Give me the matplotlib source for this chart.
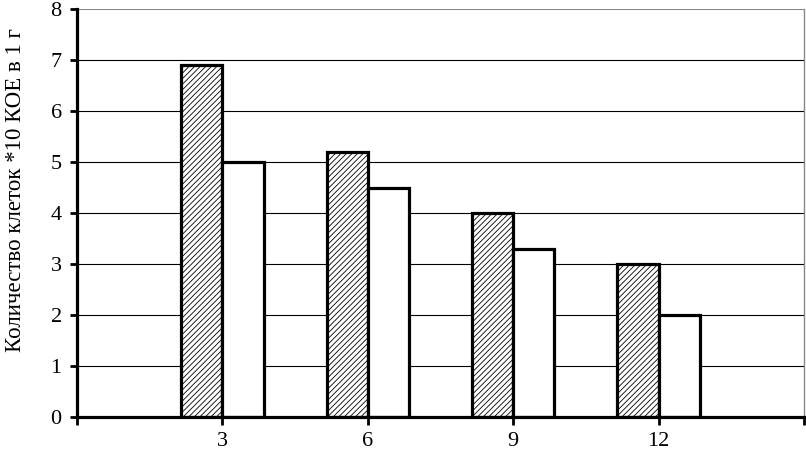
import matplotlib.pyplot as plt
import numpy as np

plt.rcParams['font.family'] = ['Liberation Serif', 'DejaVu Serif']
plt.rcParams['hatch.color'] = '#777777'
plt.rcParams['hatch.linewidth'] = 0.6

# data
months = [3, 6, 9, 12]
hatched_vals = [6.9, 5.2, 4.0, 3.0]
white_vals = [5.0, 4.5, 3.3, 2.0]
y_label = 'Количество клеток *10 КОЕ в 1 г'

fig = plt.figure(figsize=(8.06, 4.5), dpi=100)
ax = fig.add_axes([77 / 806, 1 - 417 / 450, (804 - 77) / 806, (417 - 9) / 450])

w = 0.85
x = np.array(months, dtype=float)
ax.bar(x - w / 2, hatched_vals, width=w, facecolor='white', edgecolor='black',
       linewidth=2.3, hatch='//////', zorder=3)
ax.bar(x + w / 2, white_vals, width=w, facecolor='white', edgecolor='black',
       linewidth=2.3, zorder=3)

ax.set_xlim(0, 15)
ax.set_ylim(0, 8)
ax.set_yticks(range(0, 9))
ax.set_xticks([0, 3, 6, 9, 12, 15])
ax.set_xticklabels(['', '3', '6', '9', '12', ''])

for yv in range(1, 9):
    ax.axhline(yv, color='black' if yv < 8 else '#888888', linewidth=0.8, zorder=1)

ax.spines['top'].set_visible(False)
ax.spines['right'].set_color('#888888')
ax.spines['right'].set_linewidth(1.0)
ax.spines['left'].set_linewidth(2.3)
ax.spines['bottom'].set_linewidth(2.3)
ax.spines['left'].set_zorder(4)
ax.spines['bottom'].set_zorder(4)

ax.tick_params(axis='y', direction='out', length=5, width=2, labelsize=16, pad=6)
ax.tick_params(axis='x', direction='out', length=6, width=2, labelsize=16, pad=5)

ax.set_ylabel(y_label, fontsize=16.5, va='center')
ax.yaxis.set_label_coords(-0.084, 0.555)

fig.savefig('out.png', dpi=100)
